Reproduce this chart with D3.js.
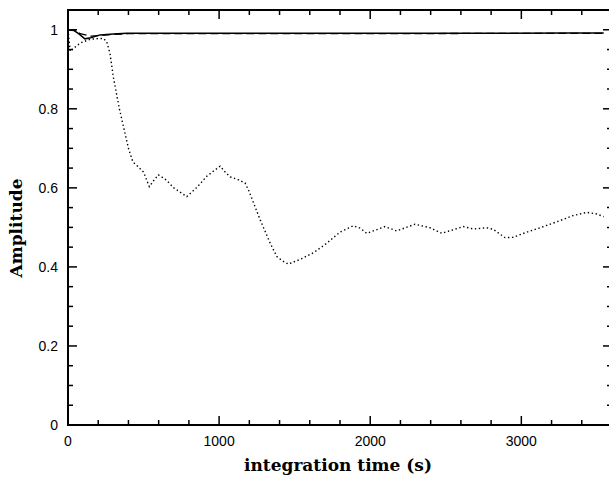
<html>
<head>
<style>
  body { margin: 0; background: #fff; }
  .tick-label { font-family: "Liberation Sans", Arial, sans-serif; font-size: 14px; fill: #000; }
  .title { font-family: "DejaVu Serif", serif; font-weight: bold; font-size: 17px; fill: #000; }
  .line { fill: none; stroke: #000; }
</style>
<script src="https://cdn.jsdelivr.net/npm/d3@7"></script>
</head>
<body>
<svg id="chart" width="609" height="478"></svg>
<script>
// integration time (s) and amplitude
let solidT = [0, 40, 70, 112, 150, 212, 300, 388, 609, 1200, 2000, 2800, 3300, 3545]
let solidA = [1.0, 0.998, 0.99, 0.977, 0.98, 0.987, 0.989, 0.991, 0.991, 0.991, 0.991, 0.991, 0.992, 0.992]

let dashT = [0, 45, 80, 150, 300, 400, 1000, 2000, 3000, 3545]
let dashA = [1.0, 1.0, 0.99, 0.984, 0.988, 0.99, 0.99, 0.99, 0.991, 0.991]

let dotT = [0, 15, 24, 79, 146, 212, 234, 256, 278, 300, 340, 370, 400, 430, 460, 500, 538, 570, 598, 650, 700, 786, 850, 920, 1007, 1040, 1073, 1130, 1172, 1194, 1230, 1272, 1338, 1382, 1420, 1459, 1536, 1625, 1713, 1800, 1888, 1934, 1977, 2098, 2175, 2296, 2396, 2473, 2616, 2682, 2771, 2815, 2892, 2947, 3036, 3124, 3234, 3344, 3433, 3499, 3545]
let dotA = [1.0, 0.945, 0.949, 0.966, 0.976, 0.978, 0.978, 0.97, 0.94, 0.88, 0.8, 0.75, 0.7, 0.665, 0.655, 0.64, 0.603, 0.62, 0.633, 0.62, 0.6, 0.578, 0.6, 0.63, 0.655, 0.64, 0.628, 0.62, 0.612, 0.595, 0.56, 0.519, 0.46, 0.426, 0.415, 0.407, 0.419, 0.436, 0.46, 0.488, 0.504, 0.498, 0.485, 0.502, 0.491, 0.508, 0.499, 0.485, 0.502, 0.496, 0.499, 0.495, 0.474, 0.475, 0.488, 0.499, 0.514, 0.53, 0.538, 0.534, 0.527]

let xMajor = [0, 1000, 2000, 3000]
let yMajor = [0, 0.2, 0.4, 0.6, 0.8, 1]

let svg = d3.select("#chart")
let plotL = 68, plotR = 612, plotT = 10, plotB = 425

let xScale = d3.scaleLinear().domain([0, 3600]).range([plotL, plotR])
let yScale = d3.scaleLinear().domain([0, 1.05]).range([plotB, plotT])

let xMinor = d3.range(0, 3601, 200).filter(d => d % 1000 !== 0)
let yMinor = d3.range(0, 1.051, 0.05).filter(d => Math.abs(d * 5 - Math.round(d * 5)) > 1e-6)

// ticks on all four sides, pointing inwards
function ticks(axis, vals, len) {
    let g = svg.append("g").attr("stroke", "#000").attr("stroke-width", 1.5)
    vals.forEach(v => {
        if (axis == "x") {
            let x = xScale(v)
            g.append("line").attr("x1", x).attr("x2", x).attr("y1", plotB).attr("y2", plotB - len)
            g.append("line").attr("x1", x).attr("x2", x).attr("y1", plotT).attr("y2", plotT + len)
        } else {
            let y = yScale(v)
            g.append("line").attr("x1", plotL).attr("x2", plotL + len).attr("y1", y).attr("y2", y)
            g.append("line").attr("x1", plotR).attr("x2", plotR - len).attr("y1", y).attr("y2", y)
        }
    })
}
ticks("x", xMajor, 9)
ticks("x", xMinor, 5)
ticks("y", yMajor, 9)
ticks("y", yMinor, 5)

// frame
svg.append("rect")
    .attr("x", plotL).attr("y", plotT)
    .attr("width", plotR - plotL).attr("height", plotB - plotT)
    .attr("fill", "none").attr("stroke", "#000").attr("stroke-width", 2)

// tick labels
svg.selectAll(".xl").data(xMajor).enter().append("text")
    .attr("class", "tick-label")
    .attr("x", d => xScale(d)).attr("y", 446)
    .attr("text-anchor", "middle")
    .text(d => d)

svg.selectAll(".yl").data(yMajor).enter().append("text")
    .attr("class", "tick-label")
    .attr("x", 58).attr("y", d => yScale(d) + 5)
    .attr("text-anchor", "end")
    .text(d => d)

// titles
svg.append("text").attr("class", "title")
    .attr("x", 338).attr("y", 471)
    .attr("text-anchor", "middle")
    .text("integration time (s)")

svg.append("text").attr("class", "title")
    .attr("transform", "translate(22,228) rotate(-90)")
    .attr("text-anchor", "middle")
    .text("Amplitude")

// curves
let line = d3.line().x(d => xScale(d[0])).y(d => yScale(d[1]))

svg.append("path").datum(d3.zip(dashT, dashA))
    .attr("class", "line").attr("stroke-width", 1.3)
    .attr("stroke-dasharray", "8,4")
    .attr("d", line)

svg.append("path").datum(d3.zip(solidT, solidA))
    .attr("class", "line").attr("stroke-width", 1.5)
    .attr("d", line)

svg.append("path").datum(d3.zip(dotT, dotA))
    .attr("class", "line").attr("stroke-width", 1.4)
    .attr("stroke-dasharray", "1.4,2.6")
    .attr("d", line)
</script>
</body>
</html>
